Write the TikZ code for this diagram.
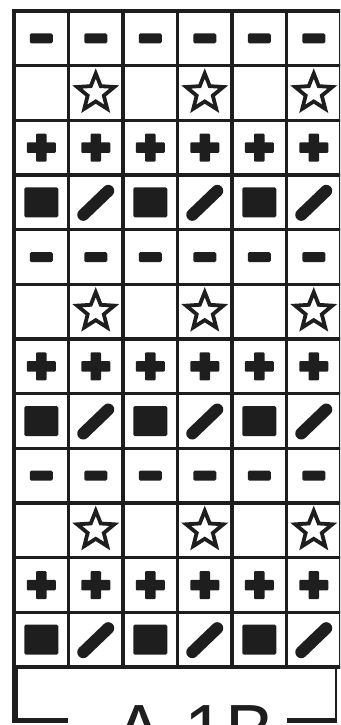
\documentclass[tikz,border=0pt]{standalone}
\usepackage{fontspec}
\newfontfamily\labelfont{Liberation Sans}
\usetikzlibrary{shapes.geometric}
\definecolor{ink}{HTML}{1E1E1E}
\tikzset{
  gridline/.style={line width=3.6pt, draw=ink, line cap=rect},
  minussym/.style={fill=ink, rounded corners=1.5pt, minimum width=23pt, minimum height=10pt, inner sep=0pt},
  squaresym/.style={fill=ink, rounded corners=1.5pt, minimum width=34pt, minimum height=30pt, inner sep=0pt},
  starsym/.style={star, star points=5, star point ratio=2.3, minimum size=39pt, inner sep=0pt, draw=ink, line width=3.8pt, fill=white},
  plush/.style={fill=ink, rounded corners=1pt, minimum width=29pt, minimum height=10.5pt, inner sep=0pt},
  plusv/.style={fill=ink, rounded corners=1pt, minimum width=10.5pt, minimum height=28pt, inner sep=0pt},
  slashsym/.style={draw=ink, line width=12pt, line cap=round},
  boxline/.style={draw=ink},
}
\begin{document}
\begin{tikzpicture}[x=1pt,y=-1pt]
\useasboundingbox (0,0) rectangle (340,725);
\clip (0,0) rectangle (340,725);
\fill[white] (0,0) rectangle (340,725);
% grid
\foreach \i in {0,...,6} \draw[gridline] ({14+\i*54.5},11) -- ({14+\i*54.5},667);
\foreach \j in {0,...,12} \draw[gridline] (14,{11+\j*54.667}) -- (341,{11+\j*54.667});
% cell centres
\foreach \j in {0,...,11} \foreach \i in {0,...,5}
  \coordinate (c-\i-\j) at ({14+54.5*(\i+0.5)},{11+54.667*(\j+0.5)});
% symbols
\foreach \j in {0,...,11} {
  \pgfmathtruncatemacro\rowtype{mod(\j,4)}
  \foreach \i in {0,...,5} {
    \pgfmathtruncatemacro\colodd{mod(\i,2)}
    \ifcase\rowtype
      \node[minussym] (m-\i-\j) at (c-\i-\j) {};
    \or
      \ifnum\colodd=1 \node[starsym] (s-\i-\j) at (c-\i-\j) {}; \fi
    \or
      \node[plush] (ph-\i-\j) at (c-\i-\j) {};
      \node[plusv] (pv-\i-\j) at (c-\i-\j) {};
    \or
      \ifnum\colodd=0
        \node[squaresym] (q-\i-\j) at (c-\i-\j) {};
      \else
        \draw[slashsym] (c-\i-\j) ++(-12.5,12.5) -- ++(25,-24);
      \fi
    \fi
  }
}
% bottom label box
\draw[boxline, line width=6pt] (15,665) -- (15,722);
\draw[boxline, line width=4.5pt] (12,720.5) -- (68,720.5);
\draw[boxline, line width=4.5pt] (287,720.5) -- (337,720.5);
\draw[boxline, line width=2.8pt] (336,667) -- (336,722);
\node[font=\labelfont\fontsize{74}{80}\selectfont, text=ink, anchor=base west, inner sep=0pt] (lbl) at (114,756) {A.1B};
\end{tikzpicture}
\end{document}
